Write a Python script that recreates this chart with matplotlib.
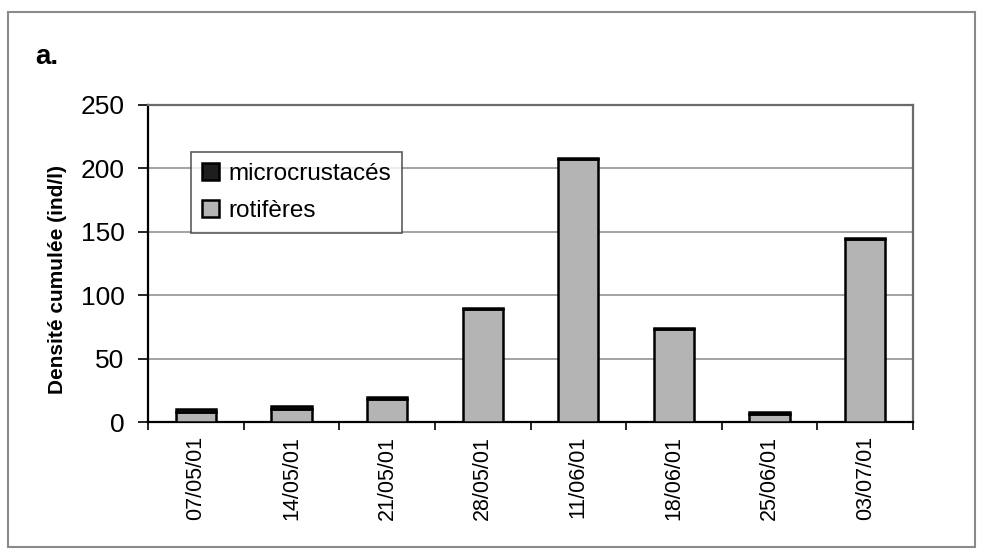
import numpy as np
import matplotlib.pyplot as plt
from matplotlib.patches import Rectangle

plt.rcParams['font.family'] = ['Liberation Sans', 'DejaVu Sans']

# data
dates = ['07/05/01', '14/05/01', '21/05/01', '28/05/01',
         '11/06/01', '18/06/01', '25/06/01', '03/07/01']
totals = [10.5, 13, 19.5, 90, 208, 74, 8, 145]
microcrustaces = [2.5, 2.5, 1.5, 0.5, 0.5, 0.5, 1.5, 0.5]
rotiferes = [t - m for t, m in zip(totals, microcrustaces)]

fig = plt.figure(figsize=(9.83, 5.49), dpi=100)
ax = fig.add_axes([148 / 983, 1 - 422 / 549, 765 / 983, 317 / 549])

x = np.arange(len(dates))
w = 0.42
ax.bar(x, rotiferes, w, color='#b4b4b4', edgecolor='black', linewidth=1.8,
       label='rotifères', zorder=3)
ax.bar(x, microcrustaces, w, bottom=rotiferes, color='#1e1e1e',
       edgecolor='black', linewidth=1.8, label='microcrustacés', zorder=3)

ax.set_xlim(-0.5, len(dates) - 0.5)
ax.set_ylim(0, 250)
ax.set_yticks([0, 50, 100, 150, 200, 250])
ax.yaxis.grid(True, color='#8a8a8a', linewidth=1.1, zorder=0)

# category labels at centres, tick marks between categories
ax.set_xticks(x)
ax.set_xticklabels(dates, rotation=90, fontsize=15.5)
ax.tick_params(axis='x', which='major', length=0, pad=10)
ax.set_xticks(np.arange(-0.5, len(dates)), minor=True)
ax.tick_params(axis='x', which='minor', length=6, width=1.2, direction='out')
ax.tick_params(axis='y', length=7, width=1.2, direction='out', labelsize=19, pad=10)

for s in ['left', 'bottom']:
    ax.spines[s].set_color('black')
    ax.spines[s].set_linewidth(1.6)
for s in ['top', 'right']:
    ax.spines[s].set_color('#6a6a6a')
    ax.spines[s].set_linewidth(1.6)

ax.set_ylabel('Densité cumulée (ind/l)', fontsize=15, fontweight='bold')
ax.yaxis.set_label_coords(-0.106, 0.45)

h, l = ax.get_legend_handles_labels()
leg = ax.legend(h[::-1], l[::-1], loc='upper left', bbox_to_anchor=(0.04, 0.89),
                fontsize=17.5, frameon=True, fancybox=False, edgecolor='#333333',
                handlelength=0.7, handleheight=0.7, handletextpad=0.4,
                borderpad=0.45, labelspacing=0.6)
leg.get_frame().set_linewidth(1.2)

fig.text(35 / 983, 1 - 64 / 549, 'a.', fontsize=20, fontweight='bold')

# outer frame
fig.patches.append(Rectangle((8 / 983, 1 - 547 / 549), 967 / 983, 535 / 549,
                             transform=fig.transFigure, fill=False,
                             edgecolor='#8a8a8a', linewidth=1.5))

fig.savefig('out.png', dpi=100)
